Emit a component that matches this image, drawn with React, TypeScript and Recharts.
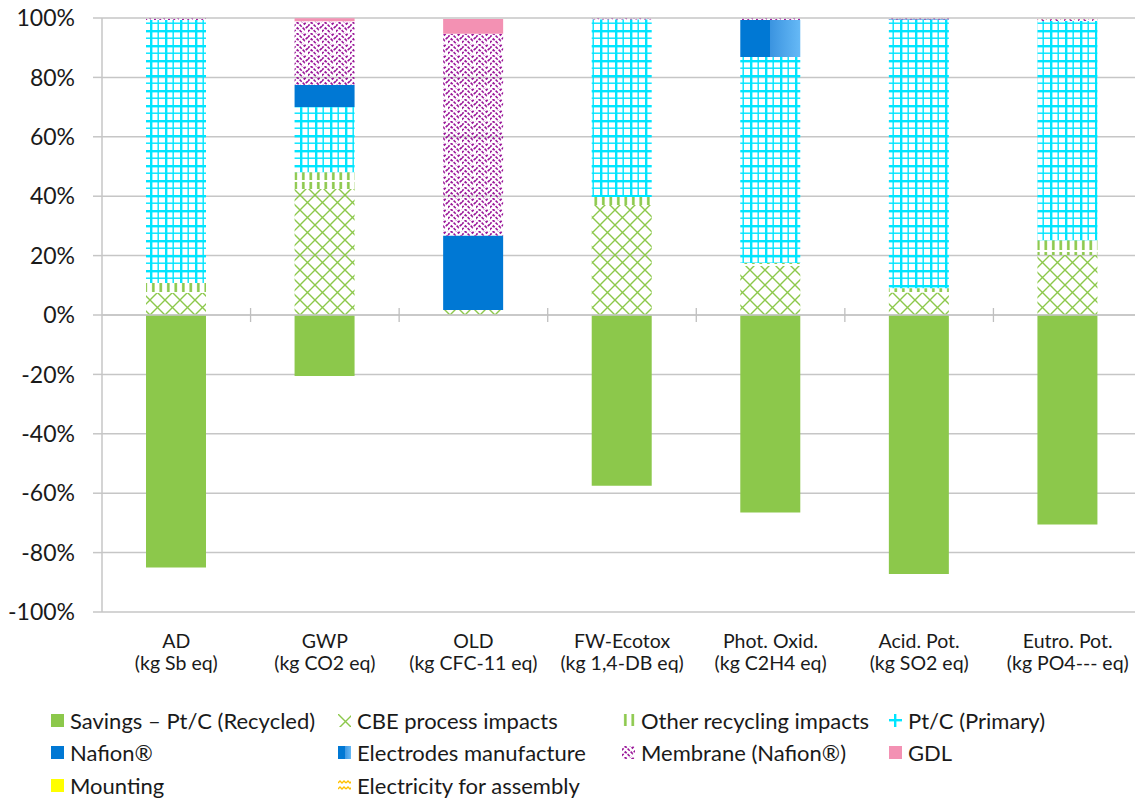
import React from 'react';
import { BarChart, Bar, XAxis, YAxis, CartesianGrid, ReferenceLine } from 'recharts';

const categories = ['AD', 'GWP', 'OLD', 'FW-Ecotox', 'Phot. Oxid.', 'Acid. Pot.', 'Eutro. Pot.'];
const units = ['(kg Sb eq)', '(kg CO2 eq)', '(kg CFC-11 eq)', '(kg 1,4-DB eq)', '(kg C2H4 eq)', '(kg SO2 eq)', '(kg PO4--- eq)'];

const savings = [-85, -20.5, 0, -57.5, -66.5, -87.2, -70.5];
const cbe = [7.4, 42.4, 1.7, 37, 16.5, 7.5, 20.2];
const otherRecycling = [3.4, 5.7, 0, 2.7, 1, 1.5, 5];
const ptcPrimary = [88.5, 21.9, 0, 59.8, 69.4, 90.3, 73.8];
const nafion = [0, 7.4, 25, 0, 0, 0.2, 0];
const electrodes = [0, 0, 0, 0, 12.4, 0, 0];
const membrane = [0.5, 21.5, 68, 0.3, 0.5, 0.3, 0.6];
const gdl = [0, 1, 5, 0, 0, 0, 0];
const mounting = [0, 0, 0, 0, 0, 0, 0];
const electricity = [0.2, 0.1, 0.2, 0.2, 0.2, 0.2, 0.3];

const yTicks = [-100, -80, -60, -40, -20, 0, 20, 40, 60, 80, 100];

const series = [
  { key: 'savings', name: 'Savings – Pt/C (Recycled)', values: savings, fill: '#8cc84b' },
  { key: 'cbe', name: 'CBE process impacts', values: cbe, fill: 'url(#pCbe)' },
  { key: 'other', name: 'Other recycling impacts', values: otherRecycling, fill: 'url(#pOther)' },
  { key: 'ptc', name: 'Pt/C (Primary)', values: ptcPrimary, fill: 'url(#pPtc)' },
  { key: 'nafion', name: 'Nafion®', values: nafion, fill: '#0078d4' },
  { key: 'electrodes', name: 'Electrodes manufacture', values: electrodes, fill: 'url(#gElec)' },
  { key: 'membrane', name: 'Membrane (Nafion®)', values: membrane, fill: 'url(#pMemb)' },
  { key: 'gdl', name: 'GDL', values: gdl, fill: '#f391b3' },
  { key: 'mounting', name: 'Mounting', values: mounting, fill: '#ffff00' },
  { key: 'electricity', name: 'Electricity for assembly', values: electricity, fill: 'url(#pElec)' },
];

const data = categories.map((c, i) => {
  const row: Record<string, any> = { name: c, unit: units[i] };
  series.forEach((s) => { row[s.key] = s.values[i]; });
  return row;
});

const FONT = 'Lato, Carlito, "Open Sans", sans-serif';
const W = 1150;
const H = 690;
const M = { top: 18, right: 8, left: 0, bottom: 0 };
const Y_W = 102;
const X_H = 78;
const plotW = W - M.left - M.right - Y_W;
const plotH = H - M.top - M.bottom - X_H;
const band = plotW / categories.length;
const zeroY = M.top + plotH / 2;

const Patterns = () => (
  <svg width={0} height={0} style={{ position: 'absolute' }}>
    <defs>
      <pattern id="pCbe" width={15} height={15} patternUnits="userSpaceOnUse">
        <path d="M0 0 L15 15 M15 0 L0 15" stroke="#8cc84b" strokeWidth={1.4} />
      </pattern>
      <pattern id="pOther" width={7.5} height={14} patternUnits="userSpaceOnUse">
        <rect x={2} y={0} width={2.6} height={12} fill="#8cc84b" />
      </pattern>
      <pattern id="pPtc" width={15} height={15} patternUnits="userSpaceOnUse">
        <rect x={0} y={0} width={2.4} height={15} fill="#00e5ff" />
        <rect x={7.5} y={0} width={1.4} height={15} fill="#00e5ff" />
        <rect x={0} y={0} width={15} height={2.4} fill="#00e5ff" />
        <rect x={0} y={7.5} width={15} height={1.4} fill="#00e5ff" />
      </pattern>
      <pattern id="pMemb" width={14} height={11} patternUnits="userSpaceOnUse">
        <path d="M-3.5 7.5 L0 4 L3.5 0.5 L7 4 L10.5 7.5 L14 4 L17.5 0.5 M-3.5 13 L0 9.5 L3.5 6 L7 9.5 L10.5 13 M3.5 -5 L7 -1.5 L10.5 2 L14 -1.5" stroke="#9a1799" strokeWidth={1.6} fill="none" strokeDasharray="3 1.3" />
      </pattern>
      <pattern id="pElec" width={8} height={6} patternUnits="userSpaceOnUse">
        <path d="M0 4 L2 2 L4 4 L6 2 L8 4" stroke="#ffc000" strokeWidth={1.3} fill="none" />
      </pattern>
      <linearGradient id="gElec" x1="0" y1="0" x2="1" y2="0">
        <stop offset="0%" stopColor="#0078d4" />
        <stop offset="50%" stopColor="#0078d4" />
        <stop offset="50%" stopColor="#3b94e0" />
        <stop offset="100%" stopColor="#66b9f6" />
      </linearGradient>
    </defs>
  </svg>
);

const XTick = (props: any) => {
  const { x, y, index, payload } = props;
  return (
    <g>
      <line x1={x + band / 2} x2={x + band / 2} y1={zeroY - 7} y2={zeroY + 7} stroke="#bfbfbf" strokeWidth={1.3} />
      <text x={x} y={y + 28} textAnchor="middle" fontSize={19.5} fill="#1a1a1a" fontFamily={FONT}>{payload.value}</text>
      <text x={x} y={y + 50} textAnchor="middle" fontSize={19.5} fill="#1a1a1a" fontFamily={FONT}>{units[index]}</text>
    </g>
  );
};

const legendCols = [51, 338, 622, 889];
const legendRows = [720, 752, 785];

const LegendIcon = ({ s }: { s: any }) => (
  <svg width={13} height={13} style={{ marginRight: 6 }}>
    {s.key === 'ptc' ? (
      <g fill="#00e5ff">
        <rect x={5} y={0} width={2.4} height={13} />
        <rect x={0} y={5} width={13} height={2.4} />
      </g>
    ) : (
      <rect x={0} y={0} width={13} height={13} fill={s.fill} />
    )}
  </svg>
);

const LegendBox = () => (
  <>
    {series.map((s, i) => (
      <div key={s.key} style={{ position: 'absolute', left: legendCols[i % 4], top: legendRows[Math.floor(i / 4)] - 14, height: 28, display: 'flex', alignItems: 'center', fontFamily: FONT, fontSize: 22, color: '#1a1a1a', whiteSpace: 'nowrap' }}>
        <LegendIcon s={s} />
        {s.name}
      </div>
    ))}
  </>
);

export default function App() {
  return (
    <div style={{ position: 'fixed', left: 0, top: 0, width: 1135, height: 799, overflow: 'hidden', background: '#fff' }}>
      <Patterns />
      <BarChart width={W} height={H} data={data} margin={M} stackOffset="sign" barSize={60}>
        <CartesianGrid vertical={false} stroke="#c6c6c6" strokeWidth={1.5} />
        <XAxis dataKey="name" height={X_H} axisLine={false} tickLine={false} tick={<XTick />} interval={0} />
        <YAxis width={Y_W} domain={[-100, 100]} ticks={yTicks} tickFormatter={(v: number) => `${v}%`}
          axisLine={{ stroke: '#c6c6c6', strokeWidth: 1.5 }} tickLine={{ stroke: '#c6c6c6', strokeWidth: 1.5 }} tickSize={9}
          tickMargin={18} tick={{ fontSize: 23, fill: '#1a1a1a', fontFamily: FONT }} allowDataOverflow />
        <ReferenceLine y={0} stroke="#c6c6c6" strokeWidth={1.5} />
        {series.map((s) => (
          <Bar key={s.key} dataKey={s.key} name={s.name} stackId="a" fill={s.fill} isAnimationActive={false} />
        ))}
      </BarChart>
      <LegendBox />
    </div>
  );
}
